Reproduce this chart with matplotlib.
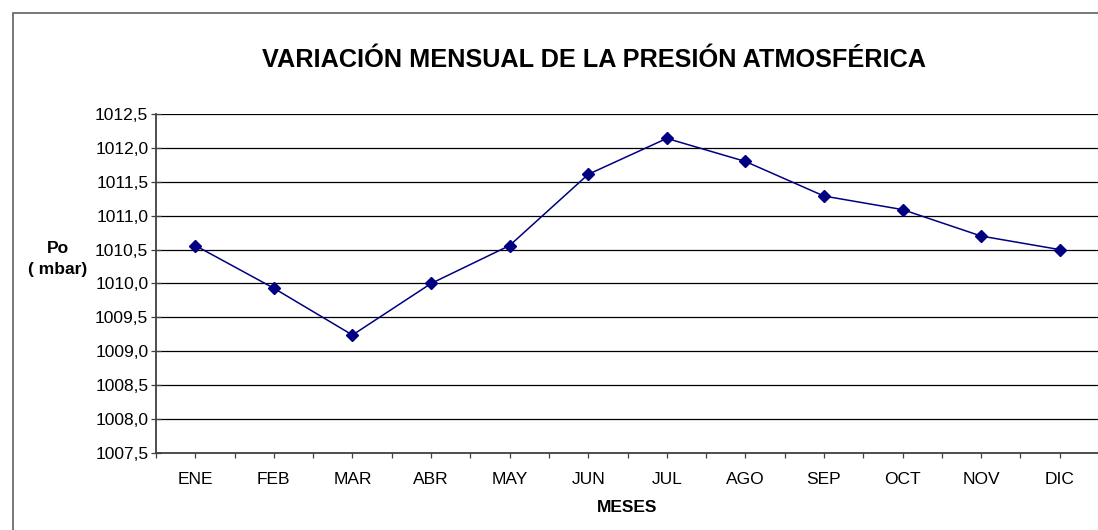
import matplotlib
matplotlib.use("Agg")
import matplotlib.pyplot as plt
from matplotlib.patches import Rectangle
from matplotlib.ticker import FixedLocator, FuncFormatter

plt.rcParams["font.family"] = ["Liberation Sans", "DejaVu Sans"]

meses = ["ENE", "FEB", "MAR", "ABR", "MAY", "JUN",
         "JUL", "AGO", "SEP", "OCT", "NOV", "DIC"]
presion = [1010.56, 1009.93, 1009.24, 1010.00, 1010.56, 1011.61,
           1012.14, 1011.80, 1011.29, 1011.09, 1010.70, 1010.50]
y_ticks = [1007.5, 1008.0, 1008.5, 1009.0, 1009.5, 1010.0,
           1010.5, 1011.0, 1011.5, 1012.0, 1012.5]

W, H = 1098, 530
fig = plt.figure(figsize=(W / 100, H / 100), dpi=100)

# outer chart border (right/bottom edges fall outside the picture)
fig.patches.append(Rectangle((12.5 / W, -0.1), 1.2, 1 - 12.5 / H + 0.1,
                             transform=fig.transFigure, fill=False,
                             edgecolor="#606060", lw=1.2))

left, right, top, bottom = 156, 1099, 114, 453
ax = fig.add_axes([left / W, 1 - bottom / H, (right - left) / W, (bottom - top) / H])

x = list(range(len(meses)))
ax.plot(x, presion, color="#000080", lw=1.1, marker="D", ms=6.5,
        markeredgecolor="#000080", zorder=3)

ax.set_xlim(-0.5, len(meses) - 0.5)
ax.set_ylim(y_ticks[0], y_ticks[-1])
ax.set_yticks(y_ticks)
ax.yaxis.set_major_formatter(FuncFormatter(lambda v, p: f"{v:.1f}".replace(".", ",")))
ax.grid(axis="y", color="black", lw=0.9)

ax.set_xticks(x)
ax.set_xticklabels(meses)
ax.xaxis.set_minor_locator(FixedLocator([i - 0.5 for i in range(len(meses) + 1)]))
ax.tick_params(axis="x", which="both", direction="out", length=3.5, width=0.9,
               color="#404040", labelsize=12.5, pad=10)
ax.tick_params(axis="y", direction="inout", length=7, width=0.9,
               color="#404040", labelsize=12.5, pad=2)

for s in ["top", "right"]:
    ax.spines[s].set_visible(False)
for s in ["left", "bottom"]:
    ax.spines[s].set_color("#404040")
    ax.spines[s].set_linewidth(1.3)

fig.text(594 / W, 1 - 60 / H, "VARIACIÓN MENSUAL DE LA PRESIÓN ATMOSFÉRICA",
         ha="center", va="center", fontsize=18.2, fontweight="bold")
fig.text(58 / W, 1 - 259 / H, "Po\n( mbar)", ha="center", va="center",
         fontsize=12.5, fontweight="bold", linespacing=1.45)
fig.text(627 / W, 1 - 508 / H, "MESES", ha="center", va="center",
         fontsize=12.5, fontweight="bold")

fig.savefig("out.png", dpi=100)
